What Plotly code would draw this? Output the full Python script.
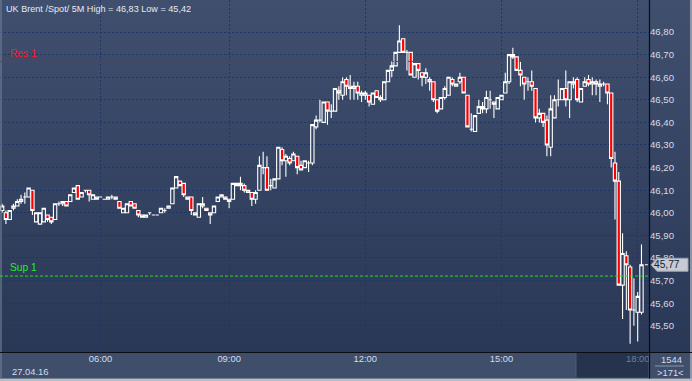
import plotly.graph_objects as go

# ---------------- data ----------------
title_text = "UK Brent /Spot/ 5M High = 46,83 Low = 45,42"
date_label = "27.04.16"
time_labels = ["06:00", "09:00", "12:00", "15:00", "18:00"]
time_bar_index = [26, 60, 96, 132, 168]
price_ticks = [45.5, 45.6, 45.7, 45.8, 45.9, 46.0, 46.1, 46.2, 46.3, 46.4, 46.5, 46.6, 46.7, 46.8]
res1_level = 46.67
sup1_level = 45.72
bars_total_label = "1544"
bars_visible_label = ">171<"

opens = [
    46.01, 46.00, 45.97, 46.02, 46.03, 46.05, 46.07, 46.07, 46.10, 45.96,
    45.95, 45.96, 45.99, 45.98, 45.97, 46.04, 46.04, 46.05, 46.05, 46.09,
    46.12, 46.07, 46.10, 46.10, 46.06, 46.07, 46.07, 46.06, 46.06, 46.07,
    46.07, 46.05, 46.00, 46.00, 46.05, 46.04, 46.01, 45.99, 45.98, 46.00,
    45.99, 45.99, 46.00, 46.01, 46.02, 46.04, 46.11, 46.14, 46.13, 46.07,
    46.07, 46.00, 45.98, 46.03, 46.02, 46.00, 46.00, 46.05, 46.07, 46.07,
    46.06, 46.06, 46.12, 46.13, 46.12, 46.09, 46.09, 46.06, 46.10, 46.20,
    46.20, 46.12, 46.11, 46.15, 46.28, 46.23, 46.24, 46.23, 46.25, 46.21,
    46.20, 46.22, 46.22, 46.38, 46.41, 46.40, 46.49, 46.45, 46.45, 46.54,
    46.52, 46.59, 46.56, 46.55, 46.56, 46.52, 46.52, 46.52, 46.48, 46.54,
    46.50, 46.50, 46.58, 46.63, 46.65, 46.71, 46.77, 46.71, 46.71, 46.60,
    46.66, 46.62, 46.60, 46.59, 46.58, 46.50, 46.46, 46.51, 46.52, 46.59,
    46.56, 46.58, 46.60, 46.52, 46.37, 46.36, 46.44, 46.46, 46.46, 46.50,
    46.49, 46.46, 46.50, 46.53, 46.58, 46.69, 46.69, 46.63, 46.60, 46.58,
    46.58, 46.55, 46.42, 46.44, 46.41, 46.29, 46.42, 46.50, 46.50, 46.55,
    46.50, 46.57, 46.59, 46.49, 46.56, 46.59, 46.57, 46.58, 46.56, 46.57,
    46.57, 46.53, 46.22, 46.14, 45.68, 45.81, 45.76, 45.57, 45.56, 45.56,
]
highs = [
    46.04, 46.01, 46.01, 46.04, 46.06, 46.08, 46.09, 46.11, 46.10, 46.00,
    46.00, 46.02, 45.99, 45.98, 46.04, 46.05, 46.05, 46.05, 46.08, 46.11,
    46.12, 46.09, 46.10, 46.10, 46.08, 46.07, 46.07, 46.06, 46.07, 46.08,
    46.07, 46.05, 46.02, 46.04, 46.05, 46.04, 46.01, 45.99, 45.99, 46.00,
    45.99, 45.99, 46.02, 46.02, 46.03, 46.11, 46.16, 46.14, 46.13, 46.07,
    46.07, 46.00, 46.04, 46.07, 46.02, 46.00, 46.03, 46.07, 46.08, 46.07,
    46.06, 46.13, 46.13, 46.16, 46.13, 46.10, 46.09, 46.10, 46.25, 46.27,
    46.25, 46.15, 46.15, 46.29, 46.29, 46.26, 46.25, 46.27, 46.25, 46.23,
    46.23, 46.23, 46.39, 46.43, 46.50, 46.49, 46.49, 46.48, 46.55, 46.56,
    46.60, 46.60, 46.61, 46.58, 46.58, 46.54, 46.54, 46.52, 46.53, 46.54,
    46.52, 46.58, 46.63, 46.67, 46.71, 46.83, 46.77, 46.72, 46.71, 46.66,
    46.66, 46.62, 46.64, 46.60, 46.58, 46.50, 46.51, 46.56, 46.60, 46.60,
    46.57, 46.62, 46.60, 46.52, 46.44, 46.43, 46.50, 46.49, 46.54, 46.54,
    46.49, 46.51, 46.52, 46.62, 46.70, 46.73, 46.69, 46.67, 46.60, 46.60,
    46.63, 46.55, 46.46, 46.44, 46.43, 46.52, 46.52, 46.59, 46.55, 46.63,
    46.58, 46.60, 46.60, 46.55, 46.60, 46.61, 46.60, 46.59, 46.59, 46.58,
    46.57, 46.53, 46.27, 46.18, 45.91, 45.83, 45.77, 45.71, 45.65, 45.86,
]
lows = [
    46.00, 45.95, 45.97, 46.01, 46.03, 46.04, 46.04, 46.07, 45.99, 45.96,
    45.95, 45.96, 45.96, 45.95, 45.97, 46.03, 46.03, 46.03, 46.05, 46.09,
    46.06, 46.07, 46.09, 46.05, 46.06, 46.06, 46.07, 46.06, 46.06, 46.06,
    46.06, 46.02, 46.00, 46.00, 46.03, 46.02, 45.98, 45.98, 45.98, 45.99,
    45.99, 45.99, 46.00, 46.00, 46.02, 46.04, 46.11, 46.12, 46.07, 46.06,
    45.99, 45.99, 45.98, 46.02, 46.01, 45.95, 46.00, 46.05, 46.07, 46.06,
    46.02, 46.06, 46.12, 46.10, 46.09, 46.09, 46.03, 46.04, 46.10, 46.17,
    46.10, 46.10, 46.11, 46.15, 46.21, 46.16, 46.21, 46.23, 46.17, 46.19,
    46.20, 46.18, 46.21, 46.37, 46.40, 46.40, 46.39, 46.42, 46.45, 46.50,
    46.50, 46.52, 46.50, 46.50, 46.50, 46.49, 46.50, 46.47, 46.48, 46.51,
    46.49, 46.50, 46.58, 46.60, 46.65, 46.71, 46.71, 46.63, 46.61, 46.60,
    46.59, 46.56, 46.57, 46.54, 46.49, 46.44, 46.46, 46.50, 46.52, 46.56,
    46.56, 46.57, 46.53, 46.38, 46.36, 46.36, 46.44, 46.44, 46.44, 46.46,
    46.42, 46.46, 46.50, 46.53, 46.57, 46.68, 46.63, 46.56, 46.50, 46.54,
    46.54, 46.40, 46.40, 46.38, 46.25, 46.25, 46.42, 46.47, 46.50, 46.47,
    46.42, 46.55, 46.49, 46.49, 46.56, 46.56, 46.52, 46.52, 46.49, 46.56,
    46.48, 46.20, 45.97, 45.68, 45.53, 45.57, 45.42, 45.50, 45.43, 45.55,
]
closes = [
    46.03, 45.97, 46.01, 46.03, 46.05, 46.06, 46.07, 46.11, 46.01, 46.00,
    46.00, 46.02, 45.97, 45.96, 46.04, 46.04, 46.05, 46.03, 46.08, 46.11,
    46.06, 46.09, 46.10, 46.08, 46.08, 46.06, 46.07, 46.06, 46.07, 46.07,
    46.06, 46.02, 46.02, 46.04, 46.03, 46.02, 45.99, 45.98, 45.99, 46.00,
    45.99, 45.99, 46.02, 46.01, 46.03, 46.11, 46.16, 46.12, 46.08, 46.06,
    46.01, 45.99, 46.04, 46.04, 46.01, 45.99, 46.03, 46.07, 46.08, 46.06,
    46.05, 46.13, 46.13, 46.12, 46.10, 46.10, 46.06, 46.09, 46.21, 46.20,
    46.10, 46.12, 46.15, 46.29, 46.23, 46.25, 46.22, 46.26, 46.20, 46.19,
    46.23, 46.22, 46.39, 46.41, 46.41, 46.49, 46.45, 46.45, 46.55, 46.53,
    46.58, 46.56, 46.55, 46.56, 46.53, 46.53, 46.53, 46.49, 46.53, 46.51,
    46.51, 46.58, 46.63, 46.65, 46.71, 46.76, 46.71, 46.71, 46.61, 46.66,
    46.63, 46.60, 46.62, 46.58, 46.50, 46.45, 46.51, 46.55, 46.60, 46.57,
    46.57, 46.60, 46.53, 46.38, 46.37, 46.43, 46.47, 46.47, 46.51, 46.50,
    46.48, 46.51, 46.52, 46.58, 46.70, 46.70, 46.63, 46.61, 46.57, 46.58,
    46.56, 46.42, 46.44, 46.40, 46.30, 46.46, 46.50, 46.50, 46.55, 46.50,
    46.58, 46.58, 46.50, 46.55, 46.58, 46.57, 46.58, 46.57, 46.57, 46.57,
    46.53, 46.24, 46.14, 45.68, 45.82, 45.77, 45.57, 45.57, 45.63, 45.77,
]

# ---------------- layout geometry ----------------
W, H = 692, 381
ML, MR, MT, MB = 0, 43, 0, 29
PW, PH = W - ML - MR, H - MT - MB      # 649 x 352
YMIN, YMAX = 45.384, 46.9416
XMIN, XMAX = -0.566, 170.99
FONT = "Liberation Sans, Arial, sans-serif"


def px_x(p):
    return p / PW


def px_y(p):
    return (PH - p) / PH


def val_y(v):
    return (v - YMIN) / (YMAX - YMIN)


bar_index = list(range(len(closes)))

fig = go.Figure()
fig.add_trace(go.Candlestick(
    x=bar_index, open=opens, high=highs, low=lows, close=closes,
    increasing=dict(line=dict(color="#ffffff", width=1.1), fillcolor="rgba(0,0,0,0)"),
    decreasing=dict(line=dict(color="#ffffff", width=1.1), fillcolor="#ff0000"),
    whiskerwidth=0, hoverinfo="skip", showlegend=False,
))

shapes = []
# vertical gradient background (plot + right axis)
top_c = (63, 79, 109)
bot_c = (42, 56, 86)
nb = 44
for i in range(nb):
    t = i / (nb - 1)
    c = tuple(round(top_c[k] + (bot_c[k] - top_c[k]) * t) for k in range(3))
    shapes.append(dict(type="rect", xref="paper", yref="paper", layer="below",
                       x0=px_x(0), x1=px_x(W), y0=px_y(PH * (i + 1) / nb), y1=px_y(PH * i / nb),
                       line=dict(width=0), fillcolor="rgb(%d,%d,%d)" % c))
# bottom axis band
shapes.append(dict(type="rect", xref="paper", yref="paper", layer="below",
                   x0=px_x(0), x1=px_x(W), y0=px_y(378), y1=px_y(352),
                   line=dict(width=0), fillcolor="#3f4e6b"))
shapes.append(dict(type="rect", xref="paper", yref="paper", layer="below",
                   x0=px_x(576), x1=px_x(648), y0=px_y(377.5), y1=px_y(353),
                   line=dict(width=0), fillcolor="#26334d"))
shapes.append(dict(type="line", xref="paper", yref="paper", layer="below",
                   x0=px_x(576), x1=px_x(576), y0=px_y(377.5), y1=px_y(353),
                   line=dict(width=1, color="#4d5b76")))
# outer light border
shapes.append(dict(type="rect", xref="paper", yref="paper", layer="above",
                   x0=px_x(0), x1=px_x(W), y0=px_y(H), y1=px_y(378.5),
                   line=dict(width=0), fillcolor="#b7bfc8"))
shapes.append(dict(type="line", xref="paper", yref="paper", layer="above",
                   x0=px_x(691), x1=px_x(691), y0=px_y(H), y1=px_y(0),
                   line=dict(width=1.5, color="#a9b2bd")))
shapes.append(dict(type="line", xref="paper", yref="paper", layer="above",
                   x0=px_x(1), x1=px_x(1), y0=px_y(378.5), y1=px_y(0),
                   line=dict(width=1.2, color="#6f7d95")))
# black separators
shapes.append(dict(type="line", xref="paper", yref="paper", layer="above",
                   x0=px_x(0), x1=px_x(W), y0=px_y(352.5), y1=px_y(352.5),
                   line=dict(width=1.2, color="#0b0d12")))
shapes.append(dict(type="line", xref="paper", yref="paper", layer="above",
                   x0=px_x(649.5), x1=px_x(649.5), y0=px_y(378.5), y1=px_y(0),
                   line=dict(width=1.2, color="#0b0d12")))
# separator in bottom-right box
shapes.append(dict(type="line", xref="paper", yref="paper", layer="above",
                   x0=px_x(655), x1=px_x(684), y0=px_y(366), y1=px_y(366),
                   line=dict(width=1, color="#8a97ab")))
# resistance / support lines
shapes.append(dict(type="line", xref="x domain", yref="y", x0=0, x1=1,
                   y0=res1_level, y1=res1_level, line=dict(color="#e01010", width=1, dash="2px,2px")))
shapes.append(dict(type="line", xref="x domain", yref="y", x0=0, x1=1,
                   y0=sup1_level, y1=sup1_level, line=dict(color="#22dd22", width=1, dash="3px,2px")))
# last price marker dash
last_i = bar_index[-1]
last_c = closes[-1]
shapes.append(dict(type="line", xref="x", yref="y", x0=last_i + 0.9, x1=last_i + 1.7,
                   y0=last_c, y1=last_c, line=dict(color="#ffffff", width=1)))
# price tag
ty = PH - val_y(last_c) * PH
path = "M %f %f L %f %f L %f %f L %f %f L %f %f Z" % (
    px_x(651), px_y(ty),
    px_x(657), px_y(ty - 6.5),
    px_x(688), px_y(ty - 6.5),
    px_x(688), px_y(ty + 6.5),
    px_x(657), px_y(ty + 6.5),
)
shapes.append(dict(type="path", xref="paper", yref="paper", path=path,
                   fillcolor="#c6cbd3", line=dict(color="#9aa3b1", width=1), layer="above"))

annotations = [
    dict(text=title_text, xref="paper", yref="paper", x=px_x(4), y=px_y(8.5),
         xanchor="left", yanchor="middle", showarrow=False,
         font=dict(family=FONT, size=9.1, color="#e6ebf2")),
    dict(text="Res 1", xref="paper", yref="paper", x=px_x(7.5), y=px_y(53.5),
         xanchor="left", yanchor="middle", showarrow=False,
         font=dict(family=FONT, size=10.2, color="#ff1a1a")),
    dict(text="Sup 1", xref="paper", yref="paper", x=px_x(8), y=px_y(267),
         xanchor="left", yanchor="middle", showarrow=False,
         font=dict(family=FONT, size=10.2, color="#22ee22")),
    dict(text=date_label, xref="paper", yref="paper", x=px_x(9.5), y=px_y(371.5),
         xanchor="left", yanchor="middle", showarrow=False,
         font=dict(family=FONT, size=9.4, color="#d3ddec")),
    dict(text=bars_total_label, xref="paper", yref="paper", x=px_x(671.5), y=px_y(359.5),
         xanchor="center", yanchor="middle", showarrow=False,
         font=dict(family=FONT, size=9.4, color="#d3ddec")),
    dict(text=bars_visible_label, xref="paper", yref="paper", x=px_x(670.5), y=px_y(372.5),
         xanchor="center", yanchor="middle", showarrow=False,
         font=dict(family=FONT, size=9.4, color="#d3ddec")),
    dict(text=("%.2f" % last_c).replace(".", ","), xref="paper", yref="paper",
         x=px_x(666.5), y=px_y(ty), xanchor="center", yanchor="middle", showarrow=False,
         font=dict(family=FONT, size=10.2, color="#152238")),
]

ticktext = time_labels[:-1] + ["<span style='color:#6f7f98'>%s</span>" % time_labels[-1]]

grid_color = "#1c3767"
fig.update_layout(
    width=W, height=H,
    margin=dict(l=ML, r=MR, t=MT, b=MB, pad=0),
    paper_bgcolor="#2f3d5a",
    plot_bgcolor="rgba(0,0,0,0)",
    separators=", ",
    showlegend=False,
    boxgap=0.12, boxgroupgap=0,
    shapes=shapes,
    annotations=annotations,
    xaxis=dict(range=[XMIN, XMAX], rangeslider=dict(visible=False),
               tickmode="array", tickvals=time_bar_index, ticktext=ticktext,
               showgrid=True, gridcolor=grid_color, griddash="2px,2px", gridwidth=1,
               zeroline=False, showline=False, ticks="",
               tickfont=dict(family=FONT, size=9.4, color="#d3ddec"), fixedrange=True),
    yaxis=dict(range=[YMIN, YMAX], side="right", tickmode="array", tickvals=price_ticks,
               tickformat=".2f",
               showgrid=True, gridcolor=grid_color, griddash="2px,2px", gridwidth=1,
               zeroline=False, showline=False, ticks="",
               tickfont=dict(family=FONT, size=9.6, color="#d3ddec"), fixedrange=True),
)

fig.write_html("out.html", config={"displayModeBar": False},
               post_script="document.body.style.margin='0';document.body.style.overflow='hidden';")
